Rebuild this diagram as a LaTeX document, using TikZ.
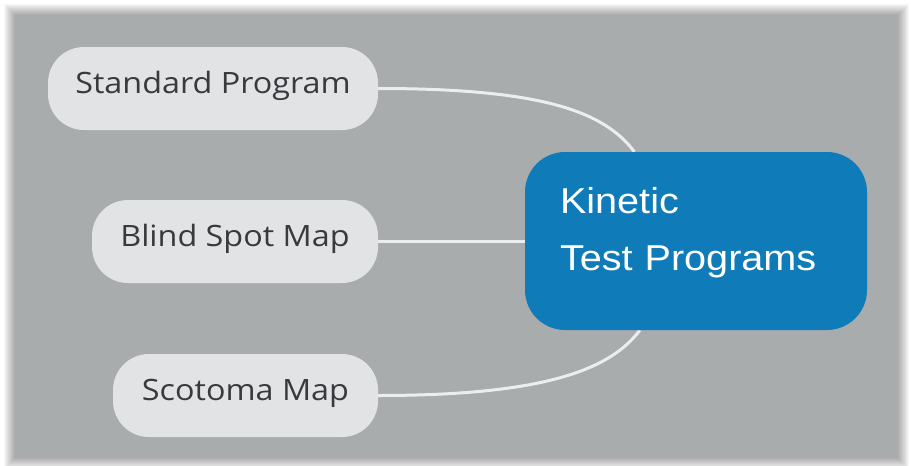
\documentclass[tikz,border=0pt]{standalone}
\usepackage{fontspec}
\newfontfamily\leaffont[FakeStretch=1.1]{Open Sans}
\newfontfamily\kinfont[FakeStretch=1.1]{Liberation Sans}
\usetikzlibrary{calc}
\definecolor{panel}{HTML}{A9ACAD}
\definecolor{leaf}{HTML}{E1E3E5}
\definecolor{leaftext}{HTML}{383B3E}
\definecolor{hub}{HTML}{0F7CB9}
\definecolor{edgecol}{HTML}{ECEDEE}
\pgfdeclarelayer{bg}
\pgfdeclarelayer{edges}
\pgfsetlayers{bg,edges,main}
\tikzset{
  leafbox/.style={rectangle, rounded corners=36pt, fill=leaf, text=leaftext,
    minimum height=83pt, inner sep=0pt, font=\leaffont\fontsize{29.4}{31}\selectfont,
    text height=21pt, text depth=12pt},
  hubbox/.style={rectangle, rounded corners=40pt, fill=hub, text=white,
    minimum width=342pt, minimum height=178pt, inner xsep=35pt, inner ysep=0pt,
    text width=272pt, align=left, font=\kinfont\fontsize{36}{57}\selectfont},
  link/.style={draw=edgecol, line width=3pt},
  shadowlayer/.style={fill=black, fill opacity=0.03}
}
\begin{document}
\begin{tikzpicture}[x=1pt,y=-1pt]
\useasboundingbox (0,0) rectangle (911,466);
\begin{pgfonlayer}{bg}
  \fill[white] (0,0) rectangle (911,466);
  \foreach \k in {1,...,11} {
    \fill[shadowlayer] (15-\k,15-\k) rectangle (898+\k,458+\k);
  }
  \fill[panel] (15,15) rectangle (898,458);
\end{pgfonlayer}
\node[leafbox, minimum width=330pt] (std) at (213,88.5) {Standard Program};
\node[leafbox, minimum width=286pt] (bsm) at (235,241.5) {Blind Spot Map};
\node[leafbox, minimum width=265pt] (sco) at (245.5,395.5) {Scotoma Map};
\node[hubbox] (kin) at (696,241) {Kinetic\\Test Programs\rule[-24pt]{0pt}{0pt}};
\coordinate (ktop) at ($(kin.north west)!0.32!(kin.north east)$);
\coordinate (kbot) at ($(kin.south west)!0.336!(kin.south east)$);
\begin{pgfonlayer}{edges}
  \draw[link] (std.east) .. controls +(165,0) and +(-30,-40) .. (ktop);
  \draw[link] (bsm.east) -- (kin.west |- bsm.east);
  \draw[link] (sco.east) .. controls +(165,0) and +(-30,40) .. (kbot);
\end{pgfonlayer}
\end{tikzpicture}
\end{document}
